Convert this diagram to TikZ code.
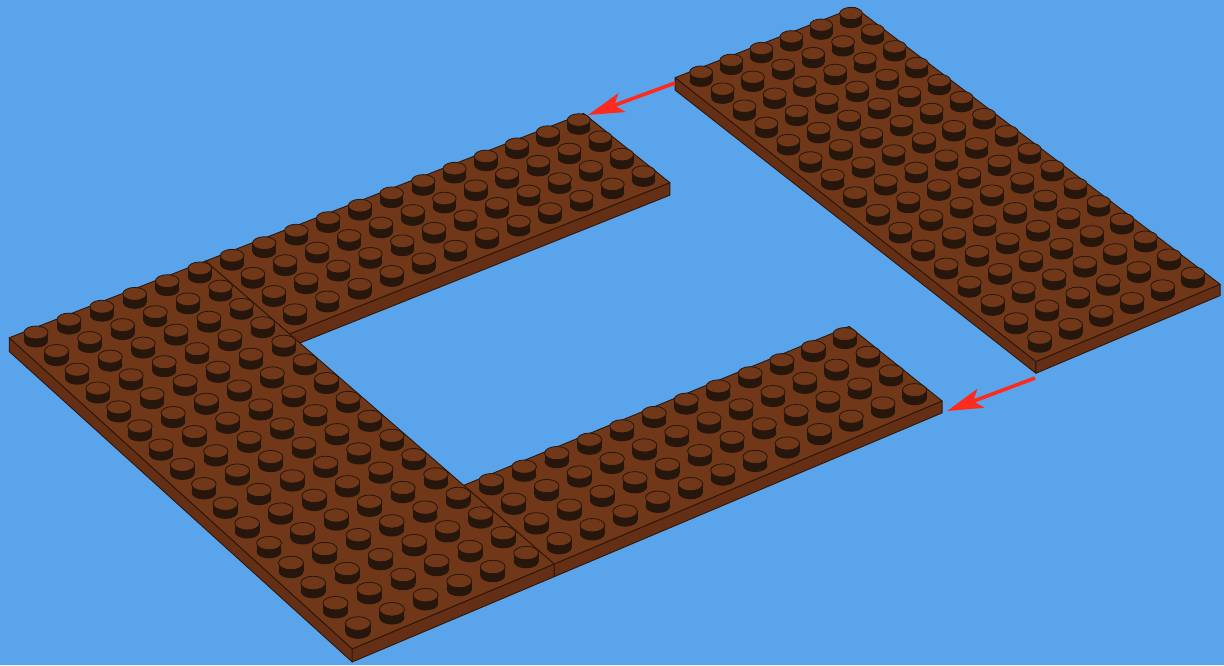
\documentclass[tikz,border=0pt]{standalone}
\usetikzlibrary{arrows.meta}
\definecolor{skyblue}{HTML}{5AA4EC}
\definecolor{platebrown}{HTML}{703819}
\definecolor{platedark}{HTML}{652F15}
\definecolor{studdark}{HTML}{27160B}
\definecolor{edgedark}{HTML}{2E1608}
\definecolor{arrowred}{HTML}{FF2A1E}
\tikzset{
	platetop/.style={fill=platebrown, draw=edgedark, line width=0.45pt, line join=round},
	plateside/.style={fill=platedark, draw=edgedark, line width=0.45pt, line join=round},
	studbody/.style={fill=studdark},
	studtop/.style={fill=platebrown, draw=studdark, line width=0.4pt},
	movearrow/.style={draw=arrowred, line width=1.8pt, ->}
}
% (col,row) of the studs on the common plane, to picture pixels
\newcommand{\gridpt}[2]{%
	\pgfmathsetmacro{\gs}{#1/26}%
	\pgfmathsetmacro{\gt}{#2/15}%
	\pgfmathsetmacro{\gd}{0.05607*\gs-0.04692*\gt+1}%
	\pgfmathsetmacro{\gx}{(862.7*\gs+305.2*\gt+36)/\gd}%
	\pgfmathsetmacro{\gy}{(-318*\gs+261.53*\gt+337)/\gd}%
}
% name, col, row, 0 = top of the plate / 1 = its lower edge
\newcommand{\platept}[4]{%
	\gridpt{#2}{#3}%
	\pgfmathsetmacro{\gz}{3.5+#4*(13.8-0.002*\gx)}%
	\coordinate (#1) at (\gx,\gy+\gz);%
}
% col from, col to, row from, row to
\newcommand{\plate}[4]{%
	\platept{pa}{#1}{#3}{0}\platept{pb}{#2}{#3}{0}%
	\platept{pc}{#2}{#4}{0}\platept{pd}{#1}{#4}{0}%
	\platept{pe}{#1}{#3}{1}\platept{pf}{#1}{#4}{1}\platept{pg}{#2}{#4}{1}%
	\draw[plateside] (pa) -- (pd) -- (pf) -- (pe) -- cycle;
	\draw[plateside] (pd) -- (pc) -- (pg) -- (pf) -- cycle;
	\draw[platetop] (pa) -- (pb) -- (pc) -- (pd) -- cycle;
}
\newcommand{\stud}[2]{%
	\gridpt{#1}{#2}%
	\pgfmathsetmacro{\rx}{12/\gd}%
	\pgfmathsetmacro{\ry}{6.5/\gd}%
	\fill[studbody] (\gx,\gy+4) ellipse[x radius=\rx, y radius=\ry];
	\fill[studbody] (\gx-\rx,\gy-4.5) rectangle (\gx+\rx,\gy+4);
	\draw[studtop] (\gx,\gy-4.5) ellipse[x radius=\rx, y radius=\ry];
}
\begin{document}
\begin{tikzpicture}[x=0.5pt, y=-0.5pt, >={Stealth[length=18pt, width=10pt, inset=4pt]}]
	\fill[skyblue] (0,0) rectangle (1224,665);
	\useasboundingbox (0,0) rectangle (1224,665);

	% plates
	\plate{20.5}{26.5}{-0.5}{15.5}
	\plate{5.5}{17.5}{-0.5}{3.5}
	\plate{5.5}{17.5}{11.5}{15.5}
	\plate{-0.5}{5.5}{-0.5}{15.5}

	% studs
	\foreach \col in {0,...,5}
		\foreach \row in {0,...,15} {\stud{\col}{\row}}
	\foreach \col in {6,...,17}
		\foreach \row in {0,...,3} {\stud{\col}{\row}}
	\foreach \col in {6,...,17}
		\foreach \row in {12,...,15} {\stud{\col}{\row}}
	\foreach \col in {21,...,26}
		\foreach \row in {0,...,15} {\stud{\col}{\row}}

	% arrows
	\coordinate (upperfrom) at (675,83);
	\coordinate (upperto) at (588,115);
	\coordinate (lowerfrom) at (1035,378);
	\coordinate (lowerto) at (947,411);
	\draw[movearrow] (upperfrom) -- (upperto);
	\draw[movearrow] (lowerfrom) -- (lowerto);
\end{tikzpicture}
\end{document}
